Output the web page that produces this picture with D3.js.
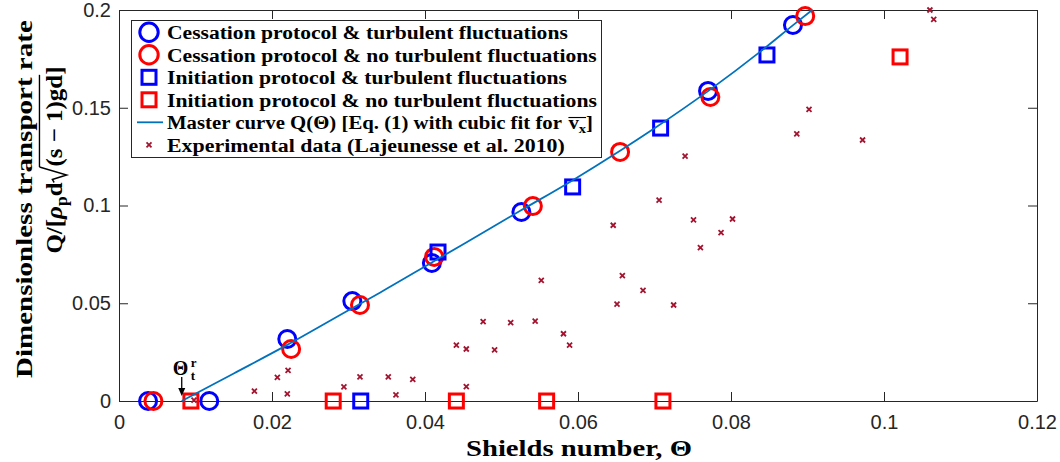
<!DOCTYPE html>
<html>
<head>
<meta charset="utf-8">
<script src="https://cdn.jsdelivr.net/npm/d3@7"></script>
<style>
  html, body { margin: 0; padding: 0; background: #fff; }
  svg { display: block; }
</style>
</head>
<body>
<svg id="chart" width="1060" height="462"></svg>
<script>
// ---- Data: dimensionless transport rate vs Shields number ----
const cessTurbTheta = [0.0038, 0.0118, 0.0220, 0.0305, 0.0409, 0.0526, 0.0770, 0.0881];
const cessTurbQ     = [0, 0, 0.0317, 0.0511, 0.0706, 0.0967, 0.1586, 0.1923];

const cessNoTurbTheta = [0.0045, 0.0225, 0.0315, 0.0412, 0.0541, 0.0655, 0.0773, 0.0897];
const cessNoTurbQ     = [0, 0.0266, 0.0491, 0.0737, 0.0997, 0.1274, 0.1555, 0.1969];

const initTurbTheta = [0.0316, 0.0417, 0.0593, 0.0708, 0.0847];
const initTurbQ     = [0, 0.0762, 0.1095, 0.1396, 0.1770];

const initNoTurbTheta = [0.0094, 0.0280, 0.0441, 0.0559, 0.0711, 0.1021];
const initNoTurbQ     = [0, 0, 0, 0, 0, 0.1760];

// Master curve Q(Theta)
const masterTheta = [0.0082, 0.0150, 0.0220, 0.0300, 0.0341, 0.0410, 0.0450, 0.0525, 0.0590, 0.0655, 0.0700, 0.0770, 0.0840, 0.0882, 0.0906];
const masterQ     = [0, 0.0141, 0.0287, 0.0464, 0.0554, 0.0711, 0.0802, 0.0974, 0.1122, 0.1280, 0.1395, 0.1585, 0.1792, 0.1925, 0.2000];

// Experimental data (Lajeunesse et al. 2010)
const expTheta = [0.0098, 0.0177, 0.0207, 0.0220, 0.0221, 0.0294, 0.0315, 0.0352, 0.0362, 0.0384,
                  0.0441, 0.0454, 0.0454, 0.0476, 0.0491, 0.0512, 0.0544, 0.0552, 0.0581, 0.0589,
                  0.0646, 0.0651, 0.0658, 0.0685, 0.0706, 0.0725, 0.0740, 0.0751, 0.0760, 0.0787,
                  0.0802, 0.0886, 0.0902, 0.0972, 0.1060, 0.1065];
const expQ     = [0.0005, 0.0051, 0.0121, 0.0036, 0.0157, 0.0072, 0.0123, 0.0123, 0.0031, 0.0111,
                  0.0286, 0.0266, 0.0073, 0.0406, 0.0262, 0.0401, 0.0408, 0.0617, 0.0344, 0.0286,
                  0.0899, 0.0496, 0.0641, 0.0566, 0.1028, 0.0491, 0.1253, 0.0926, 0.0784, 0.0861,
                  0.0931, 0.1366, 0.1492, 0.1335, 0.2000, 0.1952];

// Threshold marker position
const thresholdTheta = 0.0082;

// Axis ticks
const xTicks = [0, 0.02, 0.04, 0.06, 0.08, 0.1, 0.12];
const xTickLabels = ["0", "0.02", "0.04", "0.06", "0.08", "0.1", "0.12"];
const yTicks = [0, 0.05, 0.1, 0.15, 0.2];
const yTickLabels = ["0", "0.05", "0.1", "0.15", "0.2"];

// ---- Layout ----
const plotLeft = 119, plotRight = 1037, plotTop = 10, plotBottom = 401;
const AX = "#262626";
const SANS = "'Liberation Sans', Arial, Helvetica, sans-serif";
const SERIF = "'Liberation Serif', 'Times New Roman', serif";
const BLUE = "#0000ff", RED = "#ff0000", CURVE = "#0072bd", EXP = "#a2142f";

const x = d3.scaleLinear().domain([0, 0.12]).range([plotLeft, plotRight]);
const y = d3.scaleLinear().domain([0, 0.2]).range([plotBottom, plotTop]);

const svg = d3.select("#chart");

function styleAxis(g) {
  g.attr("font-family", SANS).attr("font-size", 20);
  g.selectAll(".domain").attr("stroke", AX).attr("stroke-width", 1);
  g.selectAll(".tick line").attr("stroke", AX).attr("stroke-width", 1);
  g.selectAll(".tick text").attr("fill", AX).attr("font-family", SANS).attr("font-size", 20);
}

// Axes (ticks inside, mirrored on the box)
svg.append("g").attr("transform", `translate(0,${plotBottom})`)
  .call(d3.axisBottom(x).tickValues(xTicks).tickFormat((d, i) => xTickLabels[i])
    .tickSizeInner(-9).tickSizeOuter(0).tickPadding(14))
  .call(styleAxis);
svg.append("g").attr("transform", `translate(0,${plotTop})`)
  .call(d3.axisTop(x).tickValues(xTicks).tickFormat("").tickSizeInner(-9).tickSizeOuter(0))
  .call(styleAxis);
svg.append("g").attr("transform", `translate(${plotLeft},0)`)
  .call(d3.axisLeft(y).tickValues(yTicks).tickFormat((d, i) => yTickLabels[i])
    .tickSizeInner(-9).tickSizeOuter(0).tickPadding(8))
  .call(styleAxis);
svg.append("g").attr("transform", `translate(${plotRight},0)`)
  .call(d3.axisRight(y).tickValues(yTicks).tickFormat("").tickSizeInner(-9).tickSizeOuter(0))
  .call(styleAxis);

// ---- Data marks ----
const zip = (a, b) => a.map((v, i) => [v, b[i]]);

function circles(th, q, color) {
  svg.append("g").selectAll("circle").data(zip(th, q)).join("circle")
    .attr("cx", d => x(d[0])).attr("cy", d => y(d[1])).attr("r", 8.5)
    .attr("fill", "none").attr("stroke", color).attr("stroke-width", 3);
}
function squares(th, q, color) {
  svg.append("g").selectAll("rect").data(zip(th, q)).join("rect")
    .attr("x", d => x(d[0]) - 7).attr("y", d => y(d[1]) - 7)
    .attr("width", 14).attr("height", 14)
    .attr("fill", "none").attr("stroke", color).attr("stroke-width", 3);
}

circles(cessTurbTheta, cessTurbQ, BLUE);
circles(cessNoTurbTheta, cessNoTurbQ, RED);
squares(initTurbTheta, initTurbQ, BLUE);
squares(initNoTurbTheta, initNoTurbQ, RED);

svg.append("path")
  .datum(zip(masterTheta, masterQ))
  .attr("d", d3.line().x(d => x(d[0])).y(d => y(d[1])).curve(d3.curveMonotoneX))
  .attr("fill", "none").attr("stroke", CURVE).attr("stroke-width", 1.8);

const crossPath = "M-2.5,-2.5L2.5,2.5M-2.5,2.5L2.5,-2.5";
svg.append("g").selectAll("path").data(zip(expTheta, expQ)).join("path")
  .attr("transform", d => `translate(${x(d[0])},${y(d[1])})`)
  .attr("d", crossPath).attr("stroke", EXP).attr("stroke-width", 1.8).attr("fill", "none");

// ---- Rich text helper (sub/superscripts, radical, overline) ----
function richText(parent, pieces, fs, color) {
  const g = parent.append("g");
  let cx = 0;
  const overs = {};
  pieces.forEach(p => {
    if (p.radical) {
      const w = fs * 0.62;
      g.append("path")
        .attr("d", `M${cx},${-0.34 * fs} L${cx + 0.12 * fs},${-0.42 * fs} L${cx + 0.3 * fs},${0.2 * fs} L${cx + w},${-0.98 * fs}`)
        .attr("fill", "none").attr("stroke", color).attr("stroke-width", fs * 0.06);
      overs[p.over] = { x0: cx + w, x1: cx + w, y: -0.98 * fs };
      cx += w + fs * 0.02;
      return;
    }
    const size = fs * (p.scale || 1);
    const t = g.append("text")
      .attr("x", cx).attr("y", (p.dy || 0) * fs)
      .attr("font-family", SERIF).attr("font-weight", "bold")
      .attr("font-size", size).attr("font-style", p.italic ? "italic" : "normal")
      .attr("fill", color).text(p.t);
    const w = t.node().getComputedTextLength();
    if (p.over) {
      if (!overs[p.over]) overs[p.over] = { x0: cx, x1: cx + w, y: (p.overY || -0.75) * fs };
      overs[p.over].x1 = cx + w;
    }
    cx += w + (p.gap || 0) * fs;
  });
  Object.values(overs).forEach(o => {
    g.append("line").attr("x1", o.x0).attr("x2", o.x1).attr("y1", o.y).attr("y2", o.y)
      .attr("stroke", color).attr("stroke-width", fs * 0.06);
  });
  return { g, width: cx };
}

// Place rich text left-aligned at (x0, baseline), stretched to a given width
function placeLeft(parent, pieces, fs, x0, base, width, color) {
  const r = richText(parent, pieces, fs, color || "#000");
  const sx = width / r.width;
  r.g.attr("transform", `translate(${x0},${base}) scale(${sx},1)`);
  return r;
}
function placeCentered(parent, pieces, fs, cx, base, width, color) {
  return placeLeft(parent, pieces, fs, cx - width / 2, base, width, color);
}
function placeVertical(parent, pieces, fs, baseX, cy, length, color) {
  const r = richText(parent, pieces, fs, color || "#000");
  const sx = length / r.width;
  r.g.attr("transform", `translate(${baseX},${cy}) rotate(-90) translate(${-length / 2},0) scale(${sx},1)`);
  return r;
}

// ---- Axis titles ----
placeCentered(svg, [{ t: "Shields number, Θ" }], 23, 579, 456, 226);

placeVertical(svg, [{ t: "Dimensionless transport rate" }], 23, 32, 199, 358);
placeVertical(svg, [
  { t: "Q/[" },
  { t: "ρ", italic: true },
  { t: "p", scale: 0.7, dy: 0.22 },
  { t: "d" },
  { radical: true, over: "r" },
  { t: "(s − 1)gd", over: "r" },
  { t: "]" }
], 23, 62, 160, 187);

// ---- Threshold annotation ----
const thX = x(thresholdTheta);
const ann = svg.append("g");
ann.append("text").attr("x", thX - 9).attr("y", 375)
  .attr("font-family", SERIF).attr("font-weight", "bold").attr("font-size", 20).text("Θ");
ann.append("text").attr("x", thX + 9).attr("y", 367)
  .attr("font-family", SERIF).attr("font-weight", "bold").attr("font-size", 13).text("r");
ann.append("text").attr("x", thX + 9).attr("y", 380)
  .attr("font-family", SERIF).attr("font-weight", "bold").attr("font-size", 13).text("t");
ann.append("line").attr("x1", thX).attr("x2", thX).attr("y1", 377).attr("y2", 390)
  .attr("stroke", "#000").attr("stroke-width", 1.3);
ann.append("path").attr("d", `M${thX - 3.5},${388} L${thX + 3.5},${388} L${thX},${396} Z`).attr("fill", "#000");

// ---- Legend ----
const lg = svg.append("g");
lg.append("rect").attr("x", 131.5).attr("y", 20.5).attr("width", 470).attr("height", 137)
  .attr("fill", "#fff").attr("stroke", AX).attr("stroke-width", 1);

const legendLabels = [
  "Cessation protocol & turbulent fluctuations",
  "Cessation protocol & no turbulent fluctuations",
  "Initiation protocol & turbulent fluctuations",
  "Initiation protocol & no turbulent fluctuations",
  "Master curve Q(Θ) [Eq. (1) with cubic fit for",
  "Experimental data (Lajeunesse et al. 2010)"
];
const legendWidths = [401, 430, 400, 430, 426, 398];
const legendMarkX = 149, legendTextX = 167, legendRow0 = 32.3, legendStep = 22.5;

legendLabels.forEach((lab, i) => {
  const cy = legendRow0 + i * legendStep;
  if (i === 0 || i === 1) {
    lg.append("circle").attr("cx", legendMarkX).attr("cy", cy).attr("r", 9.2)
      .attr("fill", "none").attr("stroke", i === 0 ? BLUE : RED).attr("stroke-width", 3);
  } else if (i === 2 || i === 3) {
    lg.append("rect").attr("x", legendMarkX - 7).attr("y", cy - 7).attr("width", 14).attr("height", 14)
      .attr("fill", "none").attr("stroke", i === 2 ? BLUE : RED).attr("stroke-width", 3);
  } else if (i === 4) {
    lg.append("line").attr("x1", 137).attr("x2", 163).attr("y1", cy).attr("y2", cy)
      .attr("stroke", CURVE).attr("stroke-width", 1.8);
  } else {
    lg.append("path").attr("transform", `translate(${legendMarkX},${cy})`)
      .attr("d", crossPath).attr("stroke", EXP).attr("stroke-width", 1.8);
  }
  const pieces = i === 4
    ? [{ t: lab, gap: 0.3 }, { t: "v", over: "v", overY: -0.62 }, { t: "x", scale: 0.7, dy: 0.2, over: "v" }, { t: "]" }]
    : [{ t: lab }];
  placeLeft(lg, pieces, 19, legendTextX, cy + 7, legendWidths[i]);
});
</script>
</body>
</html>
